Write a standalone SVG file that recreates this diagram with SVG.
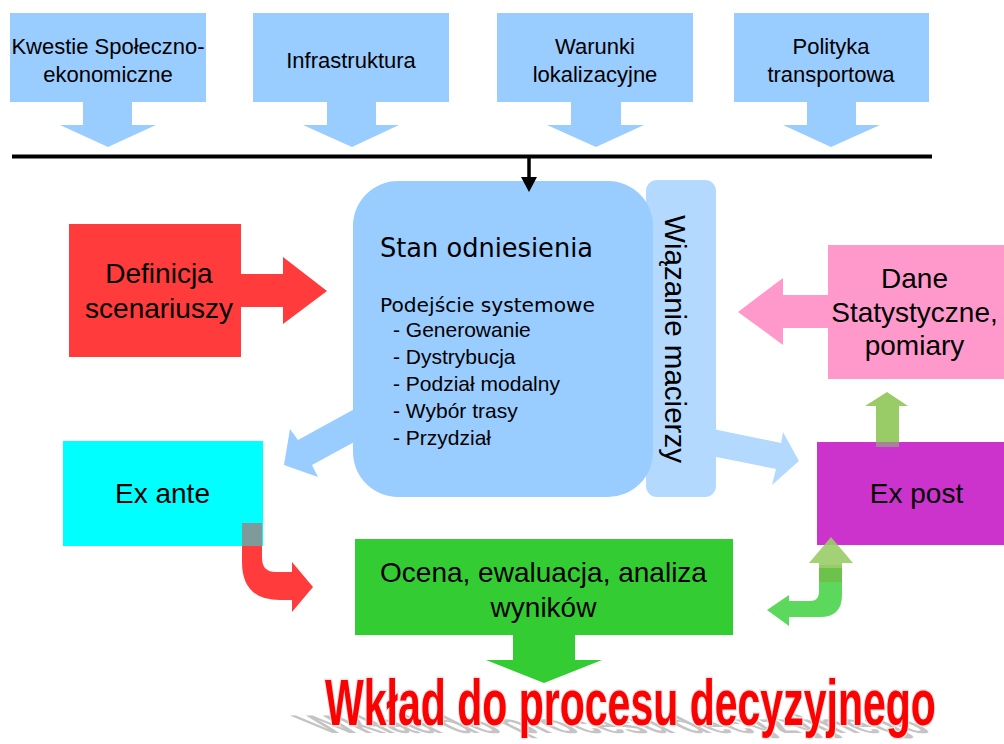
<svg xmlns="http://www.w3.org/2000/svg" width="1004" height="744" viewBox="0 0 1004 744">
<style>
.lbl{font-family:"Liberation Sans",Arial,sans-serif;fill:#000;text-anchor:middle}
.top{font-size:22px}
.big{font-size:28px}
.tah{font-family:"DejaVu Sans",Verdana,sans-serif;fill:#000}
.item{font-family:"Liberation Sans",Arial,sans-serif;font-size:21px;fill:#000}
.blue{fill:#99ccff}
.title{font-family:"Liberation Sans",Arial,sans-serif;font-weight:bold;font-size:64px}
</style>
<rect width="1004" height="744" fill="#fff"/>

<g id="connectors">
  <!-- top input arrows -->
  <polygon class="blue" points="83,102 132,102 132,125 156,125 108,147 60,125 83,125"/>
  <polygon class="blue" points="327,102 376,102 376,125 399,125 352,147 303,125 327,125"/>
  <polygon class="blue" points="571,102 621,102 621,125 644,125 596,147 547,125 571,125"/>
  <polygon class="blue" points="807,102 856,102 856,125 880,125 831,147 783,125 807,125"/>
  <!-- bus line -->
  <line x1="12" y1="156.5" x2="932" y2="156.5" stroke="#000" stroke-width="4"/>
  <!-- Stan -> Ex ante -->
  <polygon class="blue" points="380,395 298,440 290,429 284,465 318,477 312,465 380,428"/>
  <!-- Definicja -> Stan -->
  <polygon fill="#ff3b3b" points="241,274 283,274 283,257 327,291 283,324 283,307 241,307"/>
  <!-- Dane -> Wiazanie -->
  <polygon fill="#ff99cc" points="828,295 783,295 783,278 738,312 783,345 783,328 828,328"/>
  <!-- Wiazanie -> Ex post -->
  <polygon fill="#b3d9ff" points="713,429 781,443 783,432 799,461 772,485 776,469 706,455"/>
  <!-- Ex post -> Dane -->
  <polygon fill="#99cc66" points="876,447 876,406 865,406 887,392 908,406 899,406 899,447"/>
  <!-- Ex ante -> Ocena (bent) -->
  <path fill="#ff3b3b" d="M242,523 H262 V558 Q262,572 276,572 H292 V562 L313,587 L292,612 V600 H280 Q242,600 242,562 Z"/>
  <!-- Ex post -> Ocena (bent) -->
  <path fill="#5cd85c" d="M819,565 H842 V595 Q842,617 820,617 H789 V626 L767,610 L789,595 V601 H810 Q819,601 819,592 Z"/>
  <!-- Ocena -> Wklad -->
  <polygon fill="#33cc33" points="513,635 575,635 575,660 602,660 544,683 486,660 513,660"/>
</g>

<g id="n-kwestie">
  <rect x="10" y="13" width="196" height="89" class="blue"/>
  <text class="lbl top" x="108" y="54">Kwestie Społeczno-</text>
  <text class="lbl top" x="108" y="82">ekonomiczne</text>
</g>
<g id="n-infra">
  <rect x="253" y="13" width="196" height="89" class="blue"/>
  <text class="lbl top" x="351" y="68">Infrastruktura</text>
</g>
<g id="n-warunki">
  <rect x="497" y="13" width="196" height="89" class="blue"/>
  <text class="lbl top" x="595" y="54">Warunki</text>
  <text class="lbl top" x="595" y="82">lokalizacyjne</text>
</g>
<g id="n-polityka">
  <rect x="734" y="13" width="195" height="89" class="blue"/>
  <text class="lbl top" x="831" y="54">Polityka</text>
  <text class="lbl top" x="831" y="82">transportowa</text>
</g>

<g id="n-wiazanie">
  <rect x="646" y="180" width="70" height="317" rx="11" fill="#b3d9ff"/>
  <text class="lbl" font-size="29" transform="translate(665,339) rotate(90)" x="0" y="0" textLength="248" lengthAdjust="spacingAndGlyphs">Wiązanie macierzy</text>
</g>

<g id="n-stan">
  <rect x="353" y="181" width="300" height="316" rx="45" class="blue"/>
  <text class="tah" font-size="27" x="380" y="257" textLength="213" lengthAdjust="spacingAndGlyphs">Stan odniesienia</text>
  <text class="tah" font-size="19" x="380" y="312" textLength="215" lengthAdjust="spacingAndGlyphs">Podejście systemowe</text>
  <text class="item" x="393" y="337">- Generowanie</text>
  <text class="item" x="393" y="364">- Dystrybucja</text>
  <text class="item" x="393" y="391">- Podział modalny</text>
  <text class="item" x="393" y="418">- Wybór trasy</text>
  <text class="item" x="393" y="445">- Przydział</text>
</g>
<!-- small black arrow into Stan -->
<g id="bus-arrow">
  <line x1="529" y1="158" x2="529" y2="179" stroke="#000" stroke-width="3.5"/>
  <polygon fill="#000" points="521,177 537,177 529,192"/>
</g>

<g id="n-definicja">
  <rect x="69" y="224" width="172" height="133" fill="#ff3b3b"/>
  <text class="lbl big" x="159" y="283">Definicja</text>
  <text class="lbl big" x="159" y="318">scenariuszy</text>
</g>

<g id="n-exante">
  <rect x="63" y="441" width="200" height="105" fill="#00ffff"/>
  <rect x="242" y="523" width="20" height="23" fill="#7f9a9a"/>
  <text class="lbl big" x="162.5" y="503">Ex ante</text>
</g>

<g id="n-dane">
  <rect x="828" y="245" width="176" height="134" fill="#ff99cc"/>
  <text class="lbl big" x="914.5" y="288">Dane</text>
  <text class="lbl big" x="914.5" y="322">Statystyczne,</text>
  <text class="lbl big" x="914.5" y="355">pomiary</text>
</g>

<g id="n-expost">
  <rect x="817" y="442" width="187" height="103" fill="#cc33cc"/>
  <rect x="876" y="442" width="23" height="5" fill="#a8829a"/>
  <text class="lbl big" x="916.5" y="503">Ex post</text>
</g>

<g id="up-arrow">
  <polygon fill="#99cc66" opacity="0.9" points="819,582 819,563 809,563 831,537 853,563 842,563 842,582"/>
  <rect x="819" y="568" width="23" height="14" fill="#6cc24a"/>
</g>

<g id="n-ocena">
  <rect x="355" y="539" width="378" height="96" fill="#33cc33"/>
  <text class="lbl big" x="543.5" y="582">Ocena, ewaluacja, analiza</text>
  <text class="lbl big" x="543.5" y="617">wyników</text>
</g>

<g id="title">
  <text class="title" x="0" y="0" fill="#c4c4c4" transform="matrix(1,0,0.8,0.4,-580,443) translate(325,725) scale(0.641,1)">Wkład do procesu decyzyjnego</text>
  <text class="title" x="0" y="0" fill="#ff0000" stroke="#e6e6e6" stroke-width="3" paint-order="stroke" transform="translate(325,725) scale(0.641,1)">Wkład do procesu decyzyjnego</text>
</g>
</svg>
